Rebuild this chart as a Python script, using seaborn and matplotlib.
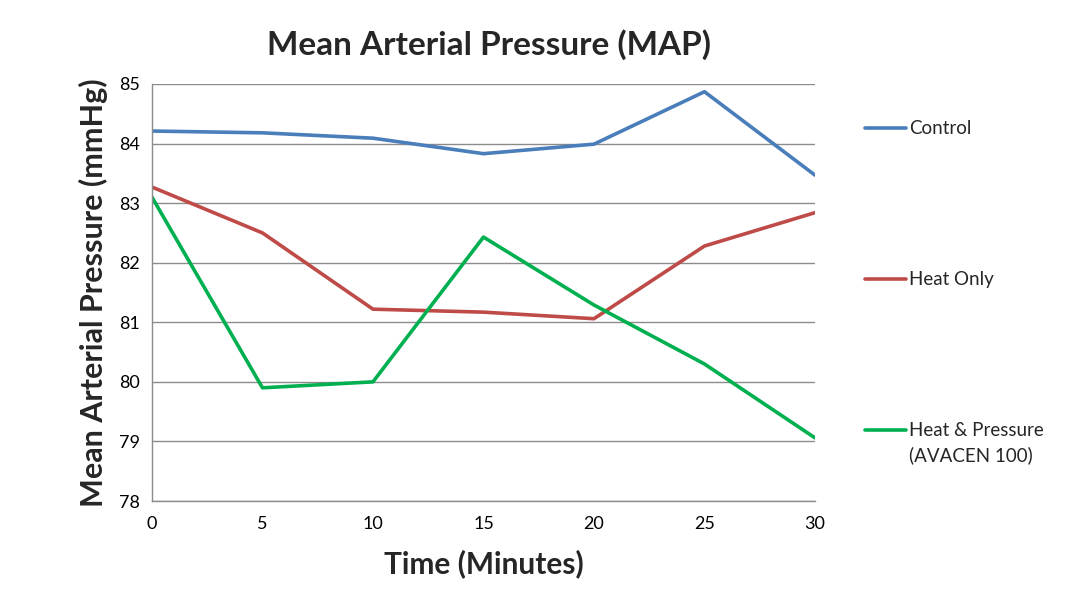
import pandas as pd
import matplotlib.pyplot as plt
import seaborn as sns
from matplotlib.lines import Line2D

minutes = [0, 5, 10, 15, 20, 25, 30]
control = [84.21, 84.18, 84.09, 83.83, 83.99, 84.87, 83.47]
heat_only = [83.27, 82.50, 81.22, 81.17, 81.06, 82.28, 82.84]
heat_pressure = [83.10, 79.90, 80.00, 82.43, 81.29, 80.30, 79.06]
series_names = ['Control', 'Heat Only', 'Heat & Pressure\n(AVACEN 100)']
colors = ['#4A7EBB', '#BE4B48', '#00B050']

rows = []
for name, vals in zip(series_names, [control, heat_only, heat_pressure]):
    for t, v in zip(minutes, vals):
        rows.append({'time': t, 'map': v, 'group': name})
df = pd.DataFrame(rows)

sns.set_style('white')
plt.rcParams['font.family'] = ['Lato', 'DejaVu Sans']

fig = plt.figure(figsize=(10.91, 5.99), dpi=100)
ax = fig.add_axes([0.1393, 0.1636, 0.6077, 0.6962])

sns.lineplot(data=df, x='time', y='map', hue='group', palette=colors,
             linewidth=2.6, legend=False, ax=ax)

ax.set_xlim(0, 30)
ax.set_ylim(78, 85)
ax.set_xticks(minutes)
ax.set_yticks(range(78, 86))
ax.yaxis.grid(True, color='#8C8C8C', linewidth=1.0)
ax.set_axisbelow(True)
for s in ['top', 'right']:
    ax.spines[s].set_visible(False)
for s in ['left', 'bottom']:
    ax.spines[s].set_color('#8C8C8C')
    ax.spines[s].set_linewidth(1.0)
ax.tick_params(axis='both', direction='out', length=5, width=1, color='#8C8C8C',
               labelsize=13, labelcolor='#000000')
ax.tick_params(axis='x', pad=6)

ax.set_xlabel('Time (Minutes)', fontsize=21.5, fontweight='bold', labelpad=12)
ax.set_ylabel('Mean Arterial Pressure (mmHg)', fontsize=22, fontweight='bold', labelpad=8)
fig.text(0.448, 0.925, 'Mean Arterial Pressure (MAP)', ha='center', va='center',
         fontsize=24, fontweight='bold')

# legend on the right, one entry per series
legend_y = [0.786, 0.534, 0.282]
for name, c, y in zip(series_names, colors, legend_y):
    fig.add_artist(Line2D([0.793, 0.830], [y, y], color=c, linewidth=2.6,
                          transform=fig.transFigure))
    fig.text(0.833, y, name.split('\n')[0], ha='left', va='center', fontsize=13.5)
    if '\n' in name:
        fig.text(0.833, y - 0.042, name.split('\n')[1], ha='left', va='center', fontsize=13.5)

fig.savefig('out.png', dpi=100)
